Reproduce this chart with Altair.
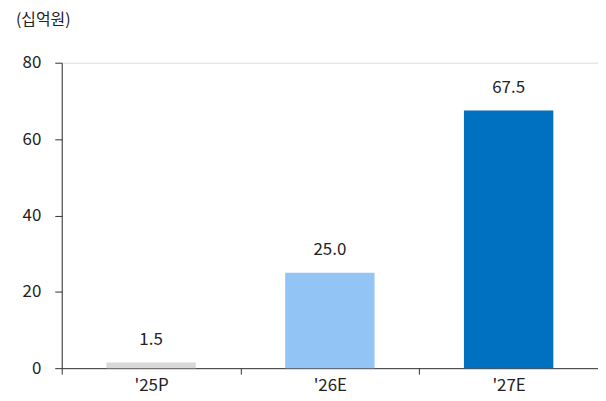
import altair as alt
import pandas as pd

categories = ["'25P", "'26E", "'27E"]
values = [1.5, 25.0, 67.5]
labels = ["1.5", "25.0", "67.5"]
colors = ["#D9D9D9", "#92C5F6", "#0070C0"]
unit_title = "(십억원)"

df = pd.DataFrame({"cat": categories, "val": values, "lbl": labels, "color": colors})

FONT = "Noto Sans CJK KR"

base = alt.Chart(df).encode(
    x=alt.X("cat:N", sort=categories,
            scale=alt.Scale(paddingInner=0, paddingOuter=0),
            axis=alt.Axis(title=None, labelAngle=0, tickBand="extent", tickSize=6,
                          labelPadding=3, labelFontSize=17, labelFont=FONT,
                          labelColor="#222222", domainColor="#333333",
                          tickColor="#333333", grid=False)),
)

bars = base.mark_bar(width={"band": 0.5}).encode(
    y=alt.Y("val:Q", scale=alt.Scale(domain=[0, 80]),
            axis=alt.Axis(values=[0, 20, 40, 60, 80], title=None,
                          tickSize=7, labelPadding=14, labelFontSize=17, labelFont=FONT,
                          labelColor="#222222", domainColor="#333333",
                          tickColor="#333333", grid=False)),
    color=alt.Color("color:N", scale=None),
)

text = base.mark_text(baseline="bottom", dy=-14, fontSize=17, font=FONT, color="#222222").encode(
    y="val:Q", text="lbl:N"
)

title = alt.Chart(pd.DataFrame({"t": [unit_title]})).mark_text(
    align="left", baseline="middle", fontSize=16, font=FONT, color="#222222"
).encode(x=alt.value(-46), y=alt.value(-43), text="t:N")

chart = (bars + text + title).properties(
    width=539, height=307,
    autosize=alt.AutoSizeParams(type="none"),
    padding={"left": 54, "top": 54, "right": 0, "bottom": 32},
).configure_view(stroke=None).configure(background="white")

chart.save("out.html", embed_options={"renderer": "svg", "actions": False})
